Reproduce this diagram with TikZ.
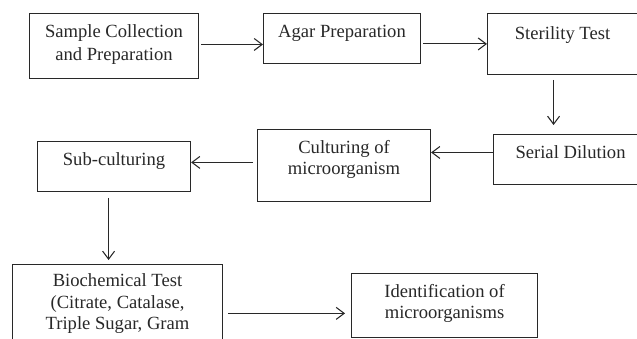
\documentclass[tikz,border=0pt]{standalone}
\usepackage{fontspec}
\setmainfont{Liberation Serif}
\definecolor{inkgray}{RGB}{40, 40, 40}
\usepackage{tikz}
\usetikzlibrary{arrows.meta, positioning, calc}

\tikzset{
  stagebox/.style={draw=inkgray, line width=0.8pt, align=center, anchor=north west,
    font=\fontsize{14}{16}\selectfont, text=inkgray, inner xsep=0pt, inner ysep=0pt,
    text height=18pt},
  flow/.style={-{Straight Barb[length=6pt, width=9pt]}, draw=inkgray, line width=0.8pt}
}

\begin{document}
\begin{tikzpicture}
  \useasboundingbox (0,0) rectangle (16.854,-8.969);
  \clip (0,0) rectangle (16.854,-8.969);

  % Top row
  \node[stagebox, minimum width=4.471cm, text height=35.25pt, text depth=13.5pt] (sample) at (0.767,-0.344) {Sample Collection\\[1pt]and Preparation};
  \node[stagebox, minimum width=4.154cm, text depth=19.5pt] (agar) at (6.958,-0.344) {Agar Preparation};
  \node[stagebox, minimum width=3.969cm, text height=19.5pt, text depth=26.25pt] (sterility) at (12.885,-0.344) {Sterility Test};

  % Middle row
  \node[stagebox, minimum width=4.075cm, text depth=19.5pt] (serial) at (13.044,-3.545) {Serial Dilution};
  \node[stagebox, minimum width=4.577cm, text height=33.75pt, text depth=20.25pt] (culturing) at (6.800,-3.413) {Culturing of\\microorganism};
  \node[stagebox, minimum width=4.048cm, text depth=19.5pt] (sub) at (0.979,-3.731) {Sub-culturing};

  % Bottom row
  \node[stagebox, minimum width=5.556cm, text height=48.75pt, text depth=30pt] (bio) at (0.317,-6.985) {Biochemical Test\\(Citrate, Catalase,\\Triple Sugar, Gram};
  \node[stagebox, minimum width=4.921cm, text height=33.75pt, text depth=14.25pt] (ident) at (9.287,-7.223) {Identification of\\microorganisms};

  % Connectors
  \draw[flow, shorten <=1.5pt] ([yshift=1.1pt]sample.east) -- ([yshift=1.1pt]sample.east -| agar.west);
  \draw[flow, shorten <=1.5pt] (agar.east |- sterility.west) -- (sterility.west);
  \draw[flow, shorten <=3.75pt, shorten >=6.75pt] ([xshift=-6.75pt]sterility.south) -- ([xshift=-6.75pt]sterility.south |- serial.north);
  \draw[flow] ([yshift=5.25pt]serial.west) -- ([yshift=5.25pt]serial.west -| culturing.east);
  \draw[flow, shorten <=3pt] ([yshift=2.25pt]culturing.west) -- ([yshift=2.25pt]culturing.west -| sub.east);
  \draw[flow, shorten <=4.5pt, shorten >=3pt] ([xshift=-4.1pt]sub.south) -- ([xshift=-4.1pt]sub.south |- bio.north);
  \draw[flow, shorten <=3.75pt, shorten >=4.5pt] ([yshift=-6pt]ident.west -| bio.east) -- ([yshift=-6pt]ident.west);
\end{tikzpicture}
\end{document}
